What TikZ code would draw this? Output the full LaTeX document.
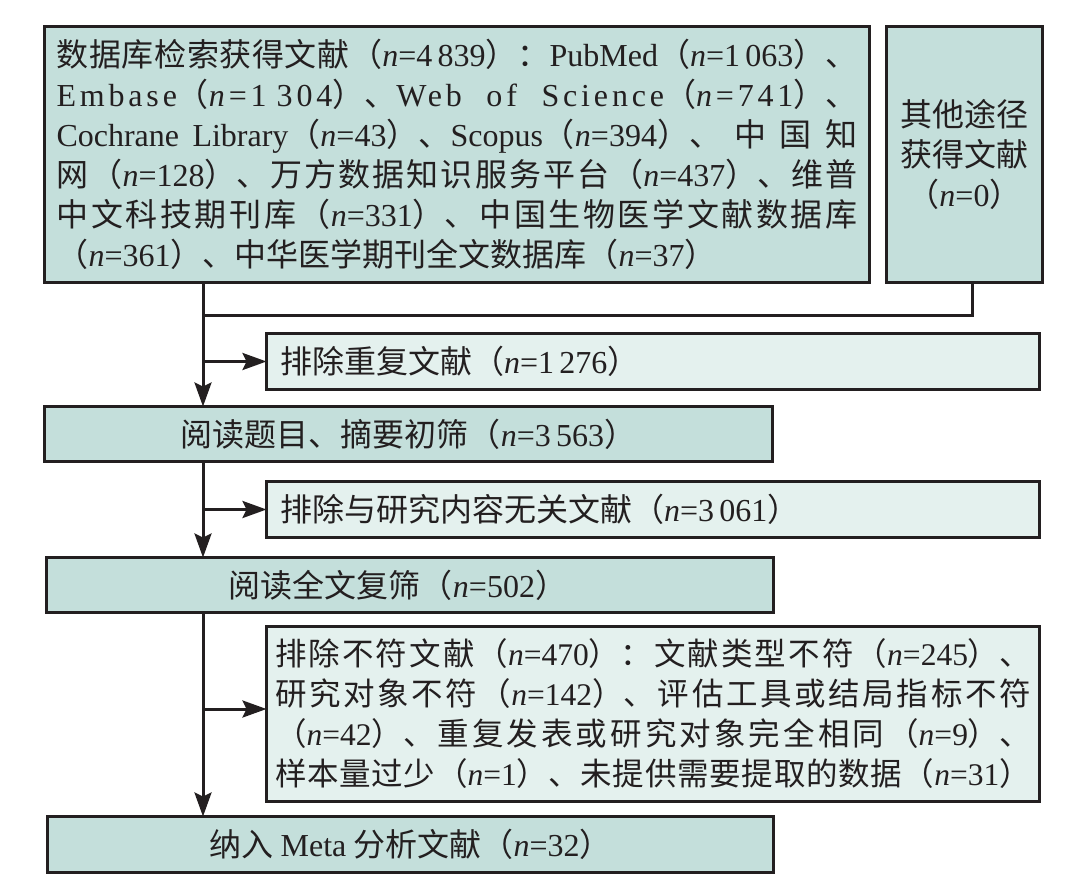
\documentclass[tikz,border=0pt]{standalone}
\usepackage{fontspec}
\setmainfont{Noto Sans CJK SC}
\newfontfamily\lat{Liberation Serif}
\newfontfamily\latls[LetterSpace=12]{Liberation Serif}
\usetikzlibrary{arrows.meta}
\XeTeXlinebreaklocale "zh"
\XeTeXlinebreakskip=0pt plus 10pt
\definecolor{boxA}{HTML}{C4DFDB}
\definecolor{boxE}{HTML}{E4F1EE}
\definecolor{ink}{HTML}{231F20}
\newcommand\la[1]{{\lat #1}}
\newcommand\las[1]{{\latls #1}}
\newcommand\nv[1]{{\lat\textit{n}=#1}}
\newcommand\nvs[1]{{\latls\textit{n}=#1}}
\begin{document}
\begin{tikzpicture}[x=1pt,y=-1pt,
 every node/.style={inner sep=0pt, outer sep=0pt, font=\fontsize{32}{40}\selectfont, text=ink},
 stage/.style={draw=ink, line width=3pt, fill=boxA, anchor=north west},
 excl/.style={draw=ink, line width=3pt, fill=boxE, anchor=north west},
 link/.style={draw=ink, line width=3pt},
 arr/.style={link, -{Stealth[length=24pt,width=17pt,inset=4pt]}}]
\useasboundingbox (0,0) rectangle (1088,884);

\node[stage, minimum width=825pt, minimum height=256pt, text width=801pt, align=justify] (A) at (44.5,26.5) {%
数据库检索获得文献（\nv{4\,839}）：\la{PubMed}（\nv{1\,063}）、\break
\las{Embase}（\nvs{1\kern10pt 304}）、\las{Web of Science}（\nvs{741}）、\break
\la{Cochrane Library}（\nv{43}）、\la{Scopus}（\nv{394}）、中国知\break
网（\nv{128}）、万方数据知识服务平台（\nv{437}）、维普\break
中文科技期刊库（\nv{331}）、中国生物医学文献数据库\break
（\nv{361}）、中华医学期刊全文数据库（\nv{37}）};

\node[stage, minimum width=156pt, minimum height=256pt, align=center] (B) at (886.5,26.5) {其他途径\\获得文献\\（\nv{0}）};

\node[excl, minimum width=773pt, minimum height=56pt, text width=746pt, align=left] (E1) at (266.5,333.5) {排除重复文献（\nv{1\,276}）};

\node[stage, minimum width=728pt, minimum height=55pt, align=center] (S2) at (44.5,406.5) {阅读题目、摘要初筛（\nv{3\,563}）};

\node[excl, minimum width=773pt, minimum height=56pt, text width=746pt, align=left] (E2) at (266.5,481.5) {排除与研究内容无关文献（\nv{3\,061}）};

\node[stage, minimum width=727pt, minimum height=55pt, align=center] (S3) at (46.5,557.5) {阅读全文复筛（\nv{502}）\hspace*{24pt}};

\node[excl, minimum width=773pt, minimum height=175pt, text width=756pt, align=justify, font=\fontsize{31.5}{40}\selectfont] (E3) at (266.5,626.5) {%
排除不符文献（\nv{470}）：文献类型不符（\nv{245}）、\break
研究对象不符（\nv{142}）、评估工具或结局指标不符\break
（\nv{42}）、重复发表或研究对象完全相同（\nv{9}）、\break
样本量过少（\nv{1}）、未提供需要提取的数据（\nv{31}）\parfillskip=0pt\par};

\node[stage, minimum width=726pt, minimum height=56pt, align=center] (S4) at (47.5,816.5) {纳入 \la{Meta} 分析文献（\nv{32}）};

\coordinate (spine) at (203,0);
\coordinate (join) at (972,315);
\coordinate (e3in) at ([yshift=5pt]E3.west);

\draw[link] (B.south -| join) -- (join) -- (join -| spine);
\draw[arr] (A.south -| spine) -- (S2.north -| spine);
\draw[arr] (E1.west -| spine) -- (E1.west);
\draw[arr] (S2.south -| spine) -- (S3.north -| spine);
\draw[arr] (E2.west -| spine) -- (E2.west);
\draw[arr] (S3.south -| spine) -- (S4.north -| spine);
\draw[arr] (e3in -| spine) -- (e3in);
\end{tikzpicture}
\end{document}
